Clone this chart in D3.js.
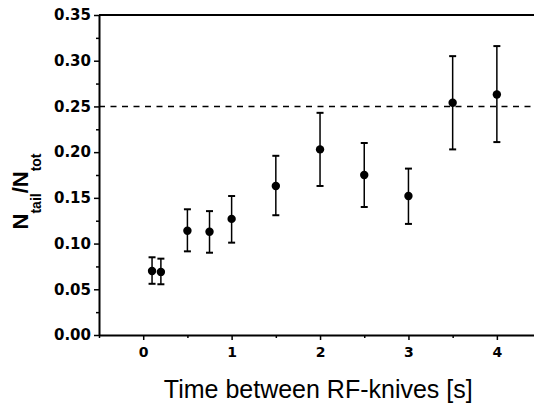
<!DOCTYPE html>
<meta charset="utf-8">
<head>
    <style>
        body { margin: 0; background: #fff; }
        text { font-family: "Liberation Sans", Arial, sans-serif; fill: #000; }
        .tick text { font-family: "DejaVu Sans", sans-serif; font-weight: bold; }
    </style>
    <script src="https://d3js.org/d3.v7.min.js"></script>
</head>
<div id="my_dataviz"></div>

<script>

// data
var times  = [0.1, 0.2, 0.5, 0.75, 1.0, 1.5, 2.0, 2.5, 3.0, 3.5, 4.0];
var ratio  = [0.070, 0.069, 0.114, 0.113, 0.127, 0.163, 0.203, 0.175, 0.152, 0.254, 0.263];
var errHi  = [0.085, 0.0835, 0.1375, 0.1355, 0.152, 0.196, 0.243, 0.210, 0.182, 0.305, 0.316];
var errLo  = [0.056, 0.0555, 0.0915, 0.090, 0.101, 0.131, 0.163, 0.140, 0.1215, 0.203, 0.211];
var xTicks = [0, 1, 2, 3, 4];
var yTicks = [0.00, 0.05, 0.10, 0.15, 0.20, 0.25, 0.30, 0.35];
var refLevel = 0.25;

var margin = {top: 15, right: 0, bottom: 70, left: 99},
    width = 534 - margin.left - margin.right,
    height = 405 - margin.top - margin.bottom;

var x = d3.scaleLinear().domain([-0.5, 4.42]).range([0, width]);
var y = d3.scaleLinear().domain([0, 0.35]).range([height, 0]);

var svg = d3.select("#my_dataviz")
  .append("svg")
    .attr("width", 534)
    .attr("height", 405)
  .append("g")
    .attr("transform", "translate(" + margin.left + "," + margin.top + ")");

// top frame line
svg.append("line")
    .attr("x1", 0).attr("x2", width)
    .attr("y1", 0).attr("y2", 0)
    .attr("stroke", "#000").attr("stroke-width", 2);

// minor ticks
var xMinor = d3.range(-0.5, 4.5, 0.5).filter(d => xTicks.indexOf(d) < 0);
svg.append("g")
    .attr("transform", "translate(0," + height + ")")
    .call(d3.axisBottom(x).tickValues(xMinor).tickSize(3).tickFormat(""))
    .call(g => g.select(".domain").remove())
    .selectAll("line").attr("stroke-width", 1.5);

var yMinor = d3.range(0.025, 0.35, 0.05);
svg.append("g")
    .call(d3.axisLeft(y).tickValues(yMinor).tickSize(3).tickFormat(""))
    .call(g => g.select(".domain").remove())
    .selectAll("line").attr("stroke-width", 1.5);

// x axis
var xAxis = svg.append("g")
    .attr("transform", "translate(0," + height + ")")
    .call(d3.axisBottom(x).tickValues(xTicks).tickSize(5).tickSizeOuter(0).tickPadding(7).tickFormat(d3.format("d")));
xAxis.select(".domain").attr("stroke-width", 2);
xAxis.selectAll("line").attr("stroke-width", 1.5);
xAxis.selectAll("text").style("font-size", "14px");

// y axis
var yAxis = svg.append("g")
    .call(d3.axisLeft(y).tickValues(yTicks).tickSize(5).tickSizeOuter(0).tickPadding(3).tickFormat(d3.format(".2f")));
yAxis.select(".domain").attr("stroke-width", 2);
yAxis.selectAll("line").attr("stroke-width", 1.5);
yAxis.selectAll("text").style("font-size", "15px");

// dashed reference line
svg.append("line")
    .attr("x1", 0).attr("x2", width)
    .attr("y1", y(refLevel)).attr("y2", y(refLevel))
    .attr("stroke", "#000")
    .attr("stroke-width", 1.5)
    .attr("stroke-dasharray", "6,5.5");

var idx = d3.range(times.length);

// error bars
svg.selectAll(".err")
    .data(idx)
    .enter().append("line")
    .attr("class", "err")
    .attr("x1", i => x(times[i])).attr("x2", i => x(times[i]))
    .attr("y1", i => y(errHi[i])).attr("y2", i => y(errLo[i]))
    .attr("stroke", "#000").attr("stroke-width", 1.5);

svg.selectAll(".capHi")
    .data(idx)
    .enter().append("line")
    .attr("class", "capHi")
    .attr("x1", i => x(times[i]) - 3.5).attr("x2", i => x(times[i]) + 3.5)
    .attr("y1", i => y(errHi[i])).attr("y2", i => y(errHi[i]))
    .attr("stroke", "#000").attr("stroke-width", 2);

svg.selectAll(".capLo")
    .data(idx)
    .enter().append("line")
    .attr("class", "capLo")
    .attr("x1", i => x(times[i]) - 3.5).attr("x2", i => x(times[i]) + 3.5)
    .attr("y1", i => y(errLo[i])).attr("y2", i => y(errLo[i]))
    .attr("stroke", "#000").attr("stroke-width", 2);

// points
svg.selectAll(".dot")
    .data(idx)
    .enter().append("circle")
    .attr("class", "dot")
    .attr("cx", i => x(times[i]))
    .attr("cy", i => y(ratio[i]))
    .attr("r", 4.2)
    .style("fill", "#000");

// x label
svg.append("text")
    .attr("text-anchor", "middle")
    .attr("x", x(1.98))
    .attr("y", height + 63)
    .style("font-size", "25px")
    .text("Time between RF-knives [s]");

// y label
var yl = svg.append("text")
    .attr("text-anchor", "middle")
    .attr("transform", "translate(-71," + (y(0.157)) + ") rotate(-90)")
    .style("font-size", "22px")
    .style("font-weight", "bold");
yl.append("tspan").text("N");
yl.append("tspan").attr("dy", 13).style("font-size", "14px").text("tail");
yl.append("tspan").attr("dy", -13).text("/N");
yl.append("tspan").attr("dy", 13).style("font-size", "14px").text("tot");

</script>
